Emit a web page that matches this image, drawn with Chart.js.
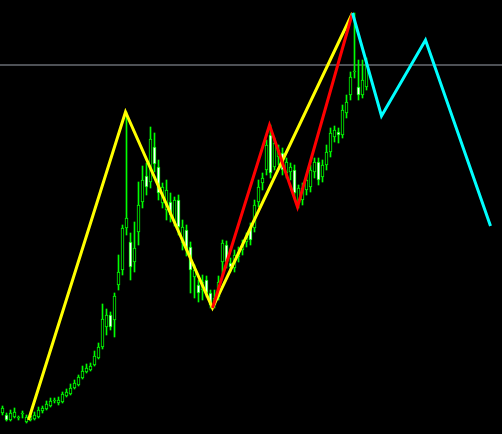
<!DOCTYPE html>
<html>
<head>
<meta charset="utf-8">
<script src="https://cdn.jsdelivr.net/npm/chart.js@4.4.1/dist/chart.umd.min.js"></script>
<style>
  html, body { margin: 0; padding: 0; background: #000; }
  canvas { display: block; }
</style>
</head>
<body>
<canvas class="js-chart" width="502" height="434"></canvas>
<script>
const ctx = document.querySelector('.js-chart').getContext('2d');

// candles, oldest first (price units)
const opens = [21, 19, 14, 17, 16, 20, 12, 14, 15, 17,
    23, 25, 28, 33, 31, 32, 38, 40, 46, 49,
    56, 62, 64, 69, 76, 87, 107, 119, 114, 149,
    164, 206, 192, 172, 202, 232, 258, 252, 287, 267,
    231, 224, 232, 212, 234, 191, 204, 187, 157, 149,
    144, 154, 141, 129, 137, 172, 189, 171, 166, 177,
    184, 192, 207, 206, 232, 251, 264, 299, 267, 277,
    281, 261, 262, 264, 231, 234, 244, 247, 262, 272,
    257, 269, 282, 297, 302, 299, 321, 339, 362, 347,
    339, 347];
const closes = [26, 14, 21, 22, 17, 21, 17, 18, 19, 24,
    26, 30, 33, 34, 34, 40, 42, 46, 51, 57,
    63, 66, 68, 78, 87, 115, 119, 107, 138, 162,
    206, 216, 167, 186, 229, 254, 247, 295, 270, 241,
    247, 244, 219, 234, 207, 207, 184, 164, 164, 141,
    152, 141, 129, 136, 152, 191, 172, 167, 179, 182,
    189, 197, 194, 229, 247, 256, 289, 261, 291, 284,
    264, 272, 267, 241, 246, 246, 254, 264, 272, 254,
    269, 282, 301, 304, 299, 324, 332, 357, 363, 339,
    354, 369];
const highs = [28, 21, 24, 26, 18, 23, 19, 20, 22, 27,
    28, 33, 36, 36, 37, 42, 45, 50, 54, 59,
    68, 70, 71, 83, 91, 130, 125, 122, 141, 179,
    209, 322, 201, 212, 252, 268, 271, 307, 301, 274,
    251, 254, 241, 237, 239, 214, 209, 192, 169, 154,
    159, 158, 144, 144, 158, 194, 193, 176, 184, 187,
    194, 201, 211, 234, 254, 261, 294, 309, 296, 289,
    286, 276, 271, 269, 249, 251, 259, 269, 276, 276,
    274, 289, 306, 308, 306, 329, 339, 362, 421, 374,
    374, 376];
const lows = [19, 13, 13, 16, 14, 16, 11, 13, 14, 16,
    21, 24, 27, 31, 29, 31, 37, 39, 45, 48,
    55, 61, 63, 68, 75, 85, 99, 104, 97, 144,
    159, 199, 154, 162, 189, 226, 239, 246, 262, 234,
    226, 214, 212, 208, 199, 184, 178, 141, 136, 132,
    134, 137, 126, 126, 134, 159, 166, 162, 162, 172,
    179, 187, 189, 202, 227, 244, 259, 256, 264, 269,
    259, 256, 254, 236, 226, 229, 239, 242, 256, 249,
    252, 264, 277, 292, 291, 296, 316, 334, 356, 334,
    336, 344];

// zigzag vertices: bar index and price
const yellowBars = [6.5, 30.75, 52.5, 87.5];
const yellowPrices = [14, 322, 126, 421];
const redBars = [52.5, 66.75, 73.75, 87.5];
const redPrices = [126, 309, 227, 421];
const cyanBars = [87.5, 94.75, 105.75, 122];
const cyanPrices = [421, 318, 394, 208];

const BID = 369;

function points(xs, ys) {
    return xs.map((x, i) => ({ x: x, y: ys[i] }));
}

const bodies = opens.map((o, i) => ({ x: i, y: [o, closes[i]] }));
const wicks = lows.map((l, i) => ({ x: i, y: [l, highs[i]] }));
const bodyFill = opens.map((o, i) => closes[i] >= o ? '#000000' : '#ffffff');

function zigzag(data, color) {
    return {
        type: 'line',
        data: data,
        borderColor: color,
        borderWidth: 3,
        pointRadius: 0,
        tension: 0,
        order: 0,
    };
}

new Chart(ctx, {
    type: 'bar',
    data: {
        datasets: [
            zigzag(points(cyanBars, cyanPrices), '#00ffff'),
            zigzag(points(redBars, redPrices), '#ff0000'),
            zigzag(points(yellowBars, yellowPrices), '#ffff00'),
            {
                data: bodies,
                backgroundColor: bodyFill,
                borderColor: '#00ff00',
                borderWidth: 1,
                borderSkipped: false,
                barThickness: 3,
                grouped: false,
                order: 1,
            },
            {
                data: wicks,
                backgroundColor: '#00ff00',
                borderWidth: 0,
                barThickness: 1,
                grouped: false,
                order: 2,
            },
            {
                type: 'line',
                data: [{ x: -1, y: BID }, { x: 126, y: BID }],
                borderColor: '#9ca2ac',
                borderWidth: 1,
                pointRadius: 0,
                order: 3,
            }
        ]
    },
    options: {
        responsive: false,
        animation: false,
        layout: { padding: 0 },
        plugins: { legend: { display: false }, tooltip: { enabled: false } },
        scales: {
            x: { type: 'linear', min: -0.625, max: 124.875, offset: false, display: false },
            y: { min: 0, max: 434, display: false }
        }
    }
});
</script>
</body>
</html>
